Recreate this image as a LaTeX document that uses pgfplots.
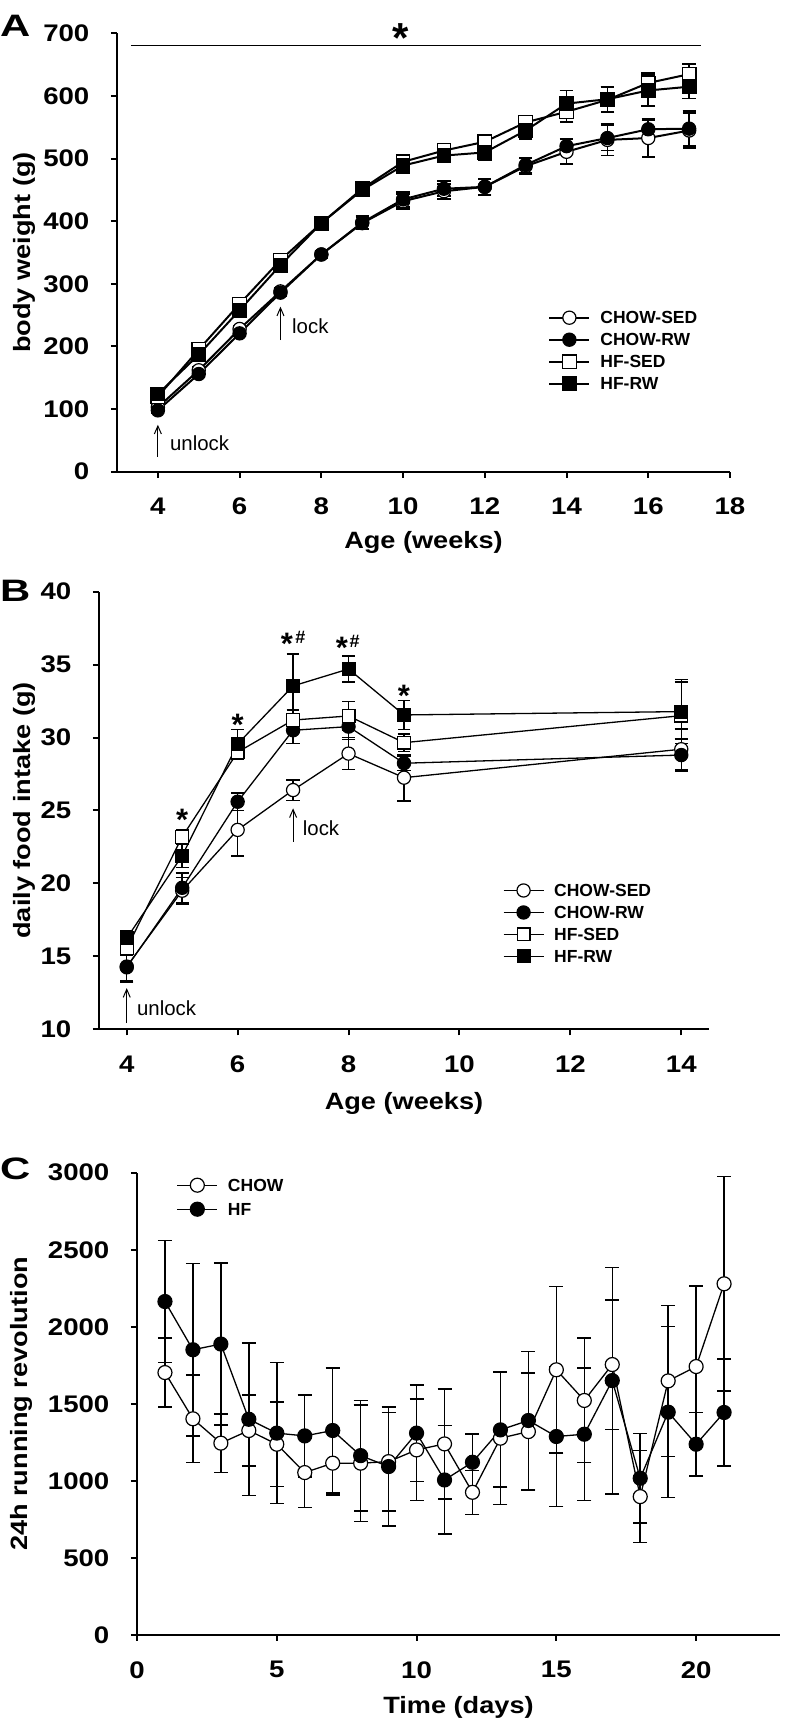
\documentclass[border=0pt]{standalone}
\usepackage{fontspec}
\setmainfont{Liberation Sans}[FakeStretch=1.15]
\newfontfamily\plainfont{Liberation Sans}
\newfontfamily\letterfont{Liberation Sans}[FakeStretch=1.35]
\usepackage{pgfplots}
\pgfplotsset{compat=1.18}
\usetikzlibrary{arrows.meta}

\tikzset{
  note/.style={font=\plainfont\fontsize{10.2}{12}\selectfont, inner sep=0pt, anchor=west},
  arr/.style={line width=0.5pt, -{Straight Barb[length=4pt,width=3.5pt]}},
  bigstar/.style={font=\plainfont\fontsize{21}{21}\selectfont\bfseries, inner sep=0pt, anchor=north},
  star/.style={font=\plainfont\fontsize{15.5}{15.5}\selectfont\bfseries, inner sep=0pt, anchor=north},
  hash/.style={font=\plainfont\fontsize{9}{9}\selectfont\bfseries, inner sep=0pt, anchor=north},
  letter/.style={font=\letterfont\fontsize{15.5}{15.5}\selectfont\bfseries, inner sep=0pt},
}
\pgfplotsset{
  panel/.style={
    scale only axis,
    axis lines=left,
    axis line style={-, line width=1pt},
    tick style={line width=1pt, black},
    tick align=outside,
    major tick length=3pt,
    tick label style={font=\fontsize{12}{14}\selectfont\bfseries},
    xticklabel style={yshift=-6.6pt},
    yticklabel style={xshift=-7.3pt},
    label style={font=\fontsize{11.8}{14}\selectfont\bfseries},
    /pgf/number format/assume math mode=true,
    /pgf/number format/set thousands separator={},
    clip=false,
    legend cell align=left,
    legend image code/.code={\draw[mark repeat=2,mark phase=2,##1] plot coordinates {(0pt,0pt) (10pt,0pt) (20pt,0pt)};},
    legend style={draw=none, fill=none, inner sep=0pt, font=\plainfont\fontsize{8.75}{10}\selectfont\bfseries, row sep=1pt,
      nodes={inner sep=1pt, text height=7pt, text depth=1pt},
      /tikz/every odd column/.append style={column sep=4pt}},
  },
  ser/.style n args={5}{black, line width=#1, mark=#2, mark size=#3, mark options={solid, fill=#4, line width=0.6pt},
    error bars/.cd, y dir=both, y explicit, error bar style={line width=#5},
    error mark options={rotate=90, line width=#5, mark size=#3}},
}

\begin{document}
\begin{tikzpicture}
\path[use as bounding box] (0pt,0pt) rectangle (392pt,864.5pt);

% panel letters
\node[letter] at (7.6pt,851.5pt) {A};
\node[letter] at (7.6pt,569pt) {B};
\node[letter] at (7.6pt,280pt) {C};

% ---------------- Panel A ----------------
\begin{axis}[panel, at={(58.5pt,628.65pt)}, anchor=south west,
  width=306.5pt, height=219.1pt,
  xmin=3, xmax=18, ymin=0, ymax=700,
  xtick={4,6,...,18}, ytick={0,100,...,700},
  xlabel={Age (weeks)}, ylabel={body weight (g)},
  xlabel style={at={(axis description cs:0.5,-0.1604)}, anchor=center},
  ylabel style={at={(axis description cs:-0.1517,0.5)}, anchor=center},
  legend style={at={(0.7031,0.2761)}, anchor=west}]
\addplot[ser={1pt}{*}{3.3pt}{white}{0.85pt}] coordinates {
(4,103) +- (0,4) (5,162) +- (0,5) (6,228) +- (0,5) (7,288) +- (0,6) (8,347) +- (0,6)
(9,397) +- (0,10) (10,432) +- (0,12) (11,448) +- (0,12) (12,455) +- (0,13) (13,488) +- (0,13)
(14,511) +- (0,20) (15,530) +- (0,25) (16,533) +- (0,30) (17,545) +- (0,28)};
\addlegendentry{CHOW-SED}
\addplot[ser={1pt}{*}{3.3pt}{black}{0.85pt}] coordinates {
(4,98) +- (0,4) (5,156) +- (0,5) (6,221) +- (0,5) (7,286) +- (0,6) (8,347) +- (0,6)
(9,398) +- (0,10) (10,435) +- (0,12) (11,452) +- (0,12) (12,455) +- (0,12) (13,490) +- (0,12)
(14,520) +- (0,12) (15,533) +- (0,20) (16,547) +- (0,14) (17,548) +- (0,28)};
\addlegendentry{CHOW-RW}
\addplot[ser={1pt}{square*}{3.4pt}{white}{0.85pt}] coordinates {
(4,120) +- (0,5) (5,195) +- (0,5) (6,268) +- (0,5) (7,338) +- (0,5) (8,397) +- (0,6)
(9,452) +- (0,8) (10,495) +- (0,10) (11,513) +- (0,9) (12,527) +- (0,10) (13,558) +- (0,8)
(14,575) +- (0,16) (15,594) +- (0,20) (16,621) +- (0,16) (17,635) +- (0,16)};
\addlegendentry{HF-SED}
\addplot[ser={1pt}{square*}{3.4pt}{black}{0.85pt}] coordinates {
(4,124) +- (0,5) (5,187) +- (0,6) (6,258) +- (0,6) (7,330) +- (0,6) (8,397) +- (0,6)
(9,450) +- (0,10) (10,489) +- (0,12) (11,505) +- (0,10) (12,510) +- (0,12) (13,545) +- (0,13)
(14,588) +- (0,21) (15,595) +- (0,20) (16,609) +- (0,25) (17,615) +- (0,19)};
\addlegendentry{HF-RW}
\draw[line width=0.5pt] (axis cs:3.34,681.6) -- (axis cs:17.28,681.6);
\node[bigstar] at (axis cs:9.95,716) {*};
\draw[arr] (axis cs:4,24) -- (axis cs:4,75);
\node[note] at (axis cs:4.29,45) {unlock};
\draw[arr] (axis cs:7,210) -- (axis cs:7,263.6);
\node[note] at (axis cs:7.277,232) {lock};
\end{axis}

% ---------------- Panel B ----------------
\begin{axis}[panel, at={(49.5pt,349.85pt)}, anchor=south west,
  width=305pt, height=218.8pt,
  xmin=3.5, xmax=14.5, ymin=10, ymax=40,
  xtick={4,6,...,14}, ytick={10,15,...,40},
  xlabel={Age (weeks)}, ylabel={daily food intake (g)},
  xlabel style={at={(axis description cs:0.5,-0.1684)}, anchor=center},
  ylabel style={at={(axis description cs:-0.123,0.5)}, anchor=center},
  legend style={at={(0.6615,0.2418)}, anchor=west}]
\addplot[ser={0.65pt}{*}{3.3pt}{white}{0.75pt}] coordinates {
(4,14.3) +- (0,1.0) (5,19.5) +- (0,0.9) (6,23.67) +- (0,1.8) (7,26.4) +- (0,0.7)
(8,28.9) +- (0,1.1) (9,27.25) +- (0,1.6) (14,29.2) +- (0,1.4)};
\addlegendentry{CHOW-SED}
\addplot[ser={0.65pt}{*}{3.3pt}{black}{0.75pt}] coordinates {
(4,14.25) +- (0,1.0) (5,19.7) +- (0,1.0) (6,25.6) +- (0,0.6) (7,30.5) +- (0,0.9)
(8,30.75) +- (0,0.9) (9,28.24) +- (0,0.5) (14,28.8) +- (0,1.1)};
\addlegendentry{CHOW-RW}
\addplot[ser={0.65pt}{square*}{3.2pt}{white}{0.75pt}] coordinates {
(4,15.56) +- (0,0.5) (5,23.2) +- (0,0.5) (6,29.0) +- (0,0.5) (7,31.2) +- (0,0.7)
(8,31.48) +- (0,1.0) (9,29.65) +- (0,0.6) (14,31.5) +- (0,2.3)};
\addlegendentry{HF-SED}
\addplot[ser={0.65pt}{square*}{3.2pt}{black}{0.75pt}] coordinates {
(4,16.24) +- (0,0.5) (5,21.9) +- (0,0.8) (6,29.56) +- (0,1.0) (7,33.54) +- (0,2.2)
(8,34.7) +- (0,0.9) (9,31.55) +- (0,1.0) (14,31.78) +- (0,2.2)};
\addlegendentry{HF-RW}
\node[star] at (axis cs:5,25.15) {*};
\node[star] at (axis cs:6,31.6) {*};
\node[star] at (axis cs:6.89,37.19) {*};
\node[hash] at (axis cs:7.13,37.33) {\#};
\node[star] at (axis cs:7.88,36.92) {*};
\node[hash] at (axis cs:8.11,37.05) {\#};
\node[star] at (axis cs:9,33.6) {*};
\draw[arr] (axis cs:4,10.42) -- (axis cs:4,12.82);
\node[note] at (axis cs:4.18,11.45) {unlock};
\draw[arr] (axis cs:7,22.87) -- (axis cs:7,25.15);
\node[note] at (axis cs:7.17,23.78) {lock};
\end{axis}

% ---------------- Panel C ----------------
\begin{axis}[panel, at={(68.5pt,47pt)}, anchor=south west,
  width=321.5pt, height=231.15pt,
  xmin=0, xmax=23, ymin=0, ymax=3000,
  xtick={0,5,...,20}, ytick={0,500,...,3000},
  xlabel={Time (days)}, ylabel={24h running revolution},
  xlabel style={at={(axis description cs:0.5,-0.1557)}, anchor=center},
  ylabel style={at={(axis description cs:-0.1804,0.5)}, anchor=center},
  legend style={at={(0.0611,0.947)}, anchor=west, row sep=2pt}]
\addplot[ser={0.65pt}{*}{3.5pt}{white}{0.75pt}] coordinates {
(1,1703) +- (0,225) (2,1403) +- (0,285) (3,1245) +- (0,189) (4,1327) +- (0,231)
(5,1238) +- (0,273) (6,1054) +- (0,227) (7,1115) +- (0,205) (8,1115) +- (0,379)
(9,1125) +- (0,320) (10,1201) +- (0,329) (11,1240) +- (0,357) (12,926) +- (0,143)
(13,1277) +- (0,430) (14,1320) +- (0,380) (15,1721) +- (0,541) (16,1522) +- (0,404)
(17,1755) +- (0,420) (18,898) +- (0,298) (19,1649) +- (0,490) (20,1742) +- (0,524)
(21,2279) +- (0,697)};
\addlegendentry{CHOW}
\addplot[ser={0.65pt}{*}{3.5pt}{black}{0.75pt}] coordinates {
(1,2164) +- (0,395) (2,1851) +- (0,560) (3,1888) +- (0,525) (4,1400) +- (0,494)
(5,1310) +- (0,458) (6,1292) +- (0,266) (7,1327) +- (0,405) (8,1164) +- (0,358)
(9,1093) +- (0,385) (10,1310) +- (0,313) (11,1006) +- (0,352) (12,1121) +- (0,182)
(13,1331) +- (0,372) (14,1392) +- (0,448) (15,1288) +- (0,455) (16,1303) +- (0,431)
(17,1651) +- (0,735) (18,1017) +- (0,290) (19,1446) +- (0,555) (20,1238) +- (0,205)
(21,1444) +- (0,347)};
\addlegendentry{HF}
\end{axis}
\end{tikzpicture}
\end{document}
